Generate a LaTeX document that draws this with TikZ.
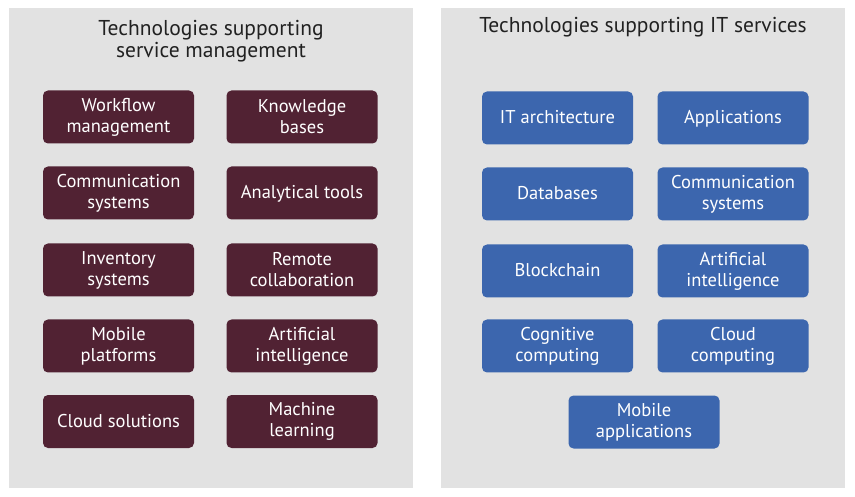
\documentclass[tikz,border=0pt]{standalone}
\usepackage{fontspec}
\setmainfont{PT Sans}
\begin{document}
\begin{tikzpicture}[x=1pt,y=-1pt,
  tbox/.style={rounded corners=5pt,minimum width=151pt,minimum height=53pt,text=white,font=\fontsize{18.5}{21}\selectfont,align=center,inner sep=0pt},
  oneline/.style={text height=13pt,text depth=2pt},
  twoline/.style={execute at begin node={\rule{0pt}{18pt}}},
  mbox/.style={tbox,fill=maroon},
  bbox/.style={tbox,fill=itblue},
  ttl/.style={font=\fontsize{21.5}{22}\selectfont,text=black!87,align=center}]
\definecolor{panelgray}{HTML}{E2E2E2}
\definecolor{maroon}{HTML}{512233}
\definecolor{itblue}{HTML}{3C66AE}
\useasboundingbox (0,0) rectangle (855,497);
\fill[white] (0,0) rectangle (855,497);
\fill[panelgray] (9,8) rectangle (413,488);
\fill[panelgray] (441,8) rectangle (845,488);
\node[ttl] (tl) at (211,41) {Technologies supporting\\service management};
\node[ttl] (tr) at (643,27) {Technologies supporting IT services};
% left
\node[mbox,twoline] (l11) at (118.5,117) {Workflow\\management};
\node[mbox,twoline] (l12) at (302,117) {Knowledge\\bases};
\node[mbox,twoline] (l21) at (118.5,193) {Communication\\systems};
\node[mbox,oneline] (l22) at (302,193) {Analytical tools};
\node[mbox,twoline] (l31) at (118.5,270) {Inventory\\systems};
\node[mbox,twoline] (l32) at (302,270) {Remote\\collaboration};
\node[mbox,twoline] (l41) at (118.5,346) {Mobile\\platforms};
\node[mbox,twoline] (l42) at (302,346) {Artificial\\intelligence};
\node[mbox,oneline] (l51) at (118.5,421.5) {Cloud solutions};
\node[mbox,twoline] (l52) at (302,421.5) {Machine\\learning};
% right
\node[bbox,oneline] (r11) at (557.5,118) {IT architecture};
\node[bbox,oneline] (r12) at (733,118) {Applications};
\node[bbox,oneline] (r21) at (557.5,194) {Databases};
\node[bbox,twoline] (r22) at (733,194) {Communication\\systems};
\node[bbox,oneline] (r31) at (557.5,271) {Blockchain};
\node[bbox,twoline] (r32) at (733,271) {Artificial\\intelligence};
\node[bbox,twoline] (r41) at (557.5,346) {Cognitive\\computing};
\node[bbox,twoline] (r42) at (733,346) {Cloud\\computing};
\node[bbox,twoline] (r51) at (644,422) {Mobile\\applications};
\end{tikzpicture}
\end{document}
